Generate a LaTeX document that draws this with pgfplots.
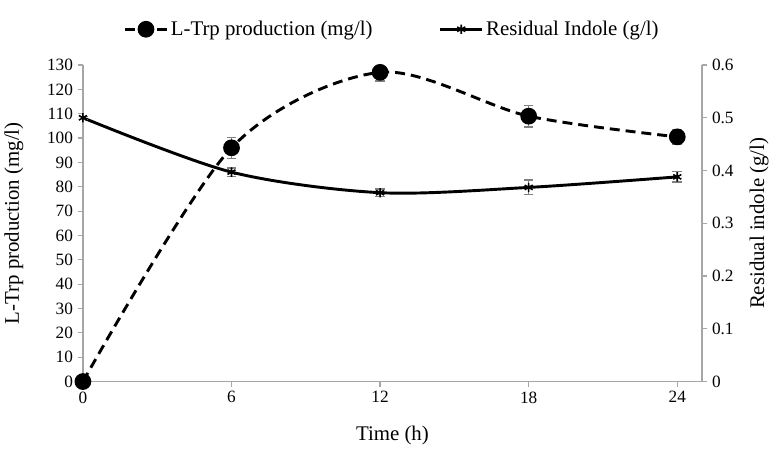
\documentclass[border=0pt]{standalone}
\usepackage{fontspec}
\setmainfont{Liberation Serif}
\usepackage{pgfplots}
\usepackage{pgfplotstable}
\pgfplotsset{compat=1.18}
\pgfplotstableread{
x y e
0 0 0
6 96 4.3
12 127 3.6
18 109 4.5
24 100.5 3
}\trp
\pgfplotstableread{
x y e
0 0.50 0.003
6 0.397 0.008
12 0.358 0.007
18 0.368 0.014
24 0.388 0.010
}\ind
\pgfplotsset{
  common/.style={
    width=466.5pt, height=238.5pt, scale only axis,
    xmin=0, xmax=25,
    axis line style={gray!70, line width=0.9pt},
    tick style={gray!70, line width=0.9pt, major tick length=4pt},
    tick align=outside,
    tick label style={font=\fontsize{13}{15}\selectfont},
    /pgf/number format/assume math mode=true,
  },
  ebar/.style={
    error bars/.cd, y dir=both, y explicit,
    error bar style={gray, line width=1pt},
    error mark options={gray, rotate=90, mark size=3.6pt, line width=1pt},
  },
}
\begin{document}
\begin{tikzpicture}
\begin{axis}[common,
  axis y line*=left, axis x line*=bottom,
  ymin=0, ymax=130, ytick distance=10,
  xtick={0,6,12,18,24},
  xlabel={Time (h)}, ylabel={L-Trp production (mg/l)},
  xlabel style={at={(rel axis cs:0.5,0)}, anchor=center, yshift=-41pt, font=\fontsize{15.7}{18}\selectfont},
  ylabel style={at={(rel axis cs:0,0.5)}, anchor=center, yshift=52pt, font=\fontsize{15.7}{18}\selectfont},
  legend columns=2,
  legend style={draw=none, fill=none, at={(0.5,1.113)}, anchor=center,
    font=\fontsize{15.7}{18}\selectfont, /tikz/every even column/.append style={column sep=48pt}},
  legend image code/.code={
    \draw[mark repeat=2,mark phase=2] plot coordinates {(0cm,0cm) (0.55cm,0cm) (1.1cm,0cm)};},
]
\coordinate (T) at (rel axis cs:0.5,1);
\addplot[black, line width=2.2pt, dash pattern=on 7.5pt off 4.5pt, smooth, tension=0.5,
  mark=*, mark size=5.2pt, mark options={solid}, ebar]
  table[x=x, y=y, y error=e] {\trp};
\addlegendentry{L-Trp production (mg/l)}
\addlegendimage{black, line width=2.2pt, mark=asterisk, mark size=3.5pt, mark options={solid, line width=1.2pt}}
\addlegendentry{Residual Indole (g/l)}
\end{axis}
\begin{axis}[common,
  axis y line*=right, axis x line=none,
  ymin=0, ymax=0.6, ytick={0,0.1,0.2,0.3,0.4,0.5,0.6},
  yticklabel style={/pgf/number format/fixed, /pgf/number format/precision=1},
  ylabel={Residual indole (g/l)},
  ylabel style={at={(rel axis cs:1,0.5)}, anchor=center, yshift=-43pt, font=\fontsize{15.7}{18}\selectfont},
]
\addplot[black, line width=2.2pt, smooth, tension=0.5,
  mark=asterisk, mark size=3.5pt, mark options={solid, line width=1.2pt}, ebar]
  table[x=x, y=y, y error=e] {\ind};
\end{axis}
\path (T) ++(0,49pt);
\end{tikzpicture}
\end{document}
